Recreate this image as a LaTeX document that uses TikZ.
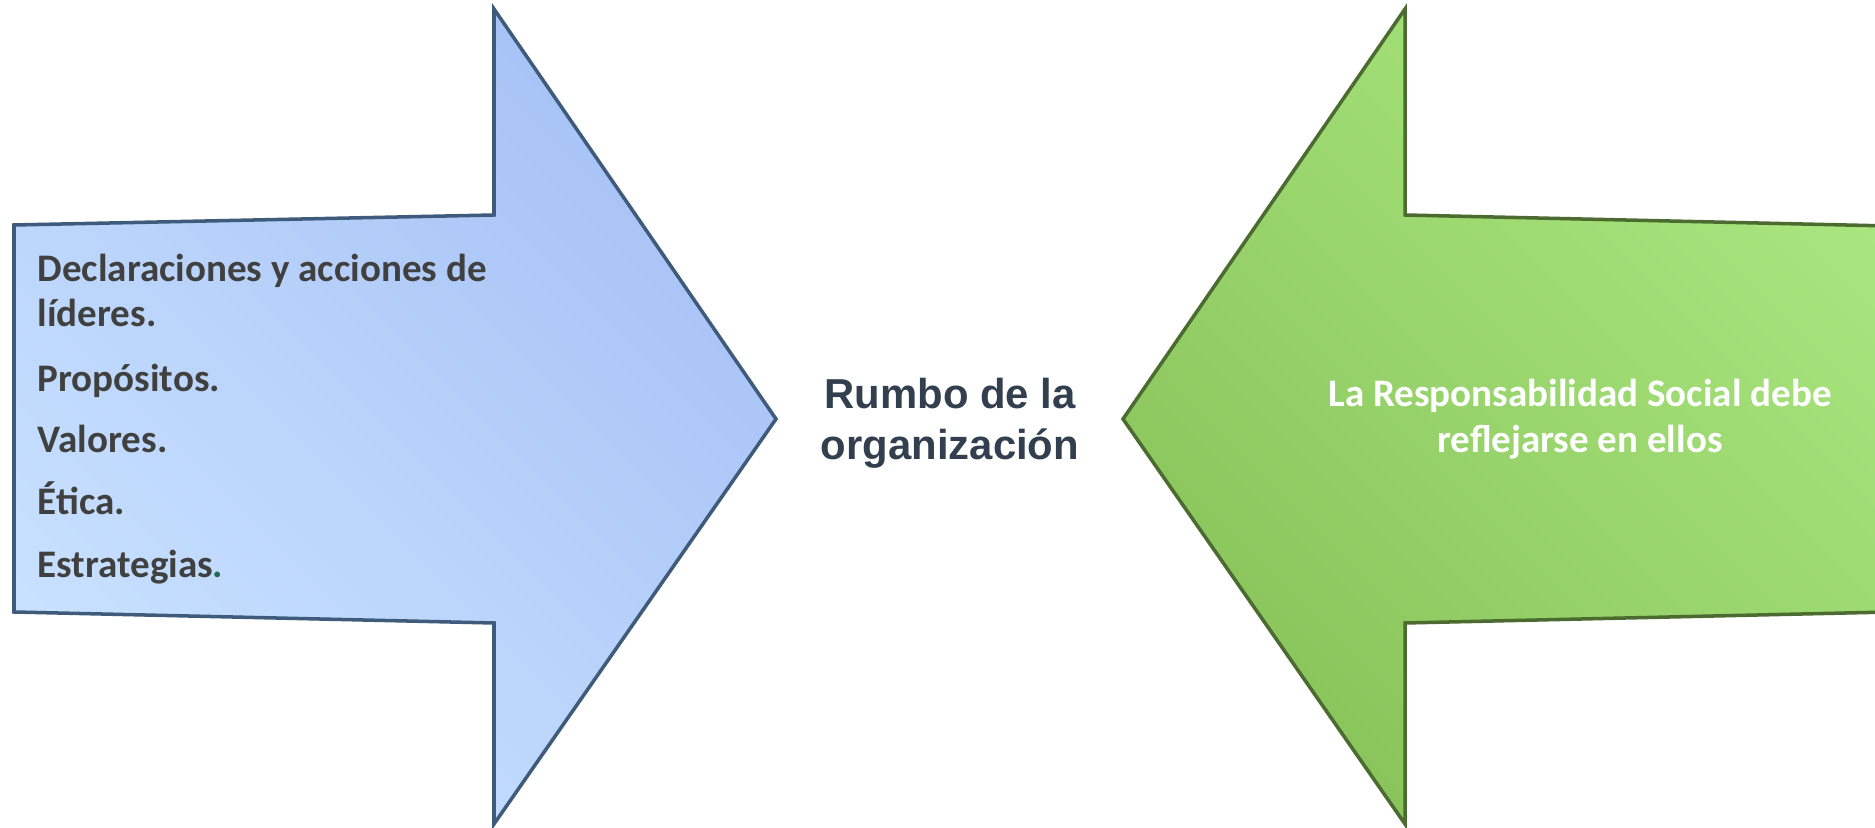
\documentclass[tikz,border=0pt]{standalone}
\usepackage{fontspec}
\setmainfont{Carlito}
\newfontfamily\arialfont{Liberation Sans}
\definecolor{blueLight}{HTML}{C8E1FF}
\definecolor{blueDark}{HTML}{A6C1F5}
\definecolor{blueEdge}{HTML}{3F5B7C}
\definecolor{greenLight}{HTML}{AAE67F}
\definecolor{greenDark}{HTML}{88C35A}
\definecolor{greenEdge}{HTML}{4B6B31}
\definecolor{leftText}{HTML}{404040}
\definecolor{midText}{HTML}{323F4F}
\definecolor{dotGreen}{HTML}{1E6B55}
\begin{document}
\begin{tikzpicture}[x=0.01cm,y=-0.01cm,
  bluearrow/.style={draw=blueEdge,line width=1pt,line join=miter,top color=blueDark,bottom color=blueLight,shading angle=-45},
  greenarrow/.style={draw=greenEdge,line width=1pt,line join=miter,top color=greenLight,bottom color=greenDark,shading angle=-45},
  lefttxt/.style={anchor=base west,inner sep=0pt,text=leftText,font=\fontsize{11.1}{13.1}\selectfont\bfseries},
  righttxt/.style={anchor=base,inner sep=0pt,text=white,font=\fontsize{11.1}{13.1}\selectfont\bfseries},
  midtxt/.style={anchor=base,inner sep=0pt,text=midText,font=\arialfont\fontsize{11.9}{13}\selectfont\bfseries}]
\useasboundingbox (0,0) rectangle (1875,828);
% left arrow
\path[bluearrow] (14,225) -- (494,215) -- (494,9) -- (776,419) -- (494,824) -- (494,623) -- (14,612) -- cycle;
% right arrow
\path[greenarrow] (1890,226) -- (1405,215) -- (1405,9) -- (1123,419) -- (1405,824) -- (1405,623) -- (1890,612);
% left texts
\node[lefttxt] (l1) at (37,282) {Declaraciones y acciones de};
\node[lefttxt] (l1b) at (37,327) {líderes.};
\node[lefttxt] (l2) at (37,392) {Propósitos.};
\node[lefttxt] (l3) at (37,453) {Valores.};
\node[lefttxt] (l4) at (37,515) {Ética.};
\node[lefttxt] (l5) at (37,578) {Estrategias\textcolor{dotGreen}{.}};
% middle text
\node[midtxt] (mid1) at (950,409) {Rumbo de la};
\node[midtxt] (mid2) at (950,460) {organización};
% right text
\node[righttxt] (r1) at (1580,407) {La Responsabilidad Social debe};
\node[righttxt] (r2) at (1580,453) {reflejarse en ellos};
\end{tikzpicture}
\end{document}
